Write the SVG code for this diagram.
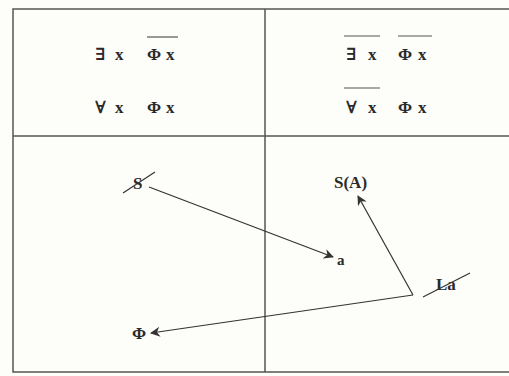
<svg xmlns="http://www.w3.org/2000/svg" width="509" height="376" viewBox="0 0 509 376">
<defs>
<style>
.f{font-family:"Liberation Serif","DejaVu Serif",serif;fill:#2a2a2a;}
.q{font-size:17px;font-weight:bold;}
.l{font-size:17px;font-weight:bold;}
.ov{stroke:#555;stroke-width:1.2;}
.c{stroke:#333;stroke-width:1.2;fill:none;}
.grid{stroke:#555;stroke-width:1.5;fill:none;}
</style>
<marker id="ah" viewBox="0 0 10 10" refX="9" refY="5" markerWidth="10" markerHeight="10" markerUnits="userSpaceOnUse" orient="auto">
<path d="M0,0 L10,5 L0,10 L3,5 Z" fill="#333"/>
</marker>
</defs>
<rect width="509" height="376" fill="#fdfdf9"/>
<g id="frame">
<rect class="grid" x="13" y="9" width="500" height="363"/>
<line class="grid" x1="265" y1="9" x2="265" y2="372"/>
<line class="grid" x1="13" y1="136" x2="509" y2="136"/>
</g>
<g id="top-left">
<text class="f q" x="95" y="60">∃</text><text class="f q" x="115" y="60">x</text>
<text class="f q" x="147" y="60">Φ</text><text class="f q" x="166" y="60">x</text>
<line class="ov" x1="147" y1="37" x2="178" y2="37"/>
<text class="f q" x="95" y="113">∀</text><text class="f q" x="115" y="113">x</text>
<text class="f q" x="147" y="113">Φ</text><text class="f q" x="166" y="113">x</text>
</g>
<g id="top-right">
<text class="f q" x="346" y="60">∃</text><text class="f q" x="368" y="60">x</text>
<line class="ov" x1="344" y1="36" x2="380" y2="36"/>
<text class="f q" x="398" y="60">Φ</text><text class="f q" x="418" y="60">x</text>
<line class="ov" x1="398" y1="36" x2="432" y2="36"/>
<text class="f q" x="346" y="113">∀</text><text class="f q" x="368" y="113">x</text>
<line class="ov" x1="344" y1="88" x2="380" y2="88"/>
<text class="f q" x="398" y="113">Φ</text><text class="f q" x="418" y="113">x</text>
</g>
<g id="node-S">
<text class="f l" x="133" y="189">S</text>
<line class="c" x1="123" y1="193" x2="155" y2="172"/>
</g>
<g id="node-a">
<text class="f l" x="337" y="265" style="font-size:15px">a</text>
</g>
<g id="node-SA">
<text class="f l" x="334" y="188">S(A)</text>
</g>
<g id="node-La">
<text class="f l" x="436" y="290">La</text>
<line class="c" x1="423" y1="297" x2="470" y2="273"/>
</g>
<g id="node-Phi">
<text class="f l" x="132" y="339">Φ</text>
</g>
<g id="connectors">
<line class="c" x1="149" y1="187" x2="333" y2="257" marker-end="url(#ah)"/>
<line class="c" x1="413" y1="295" x2="358" y2="196" marker-end="url(#ah)"/>
<line class="c" x1="413" y1="295" x2="151" y2="333" marker-end="url(#ah)"/>
</g>
</svg>
